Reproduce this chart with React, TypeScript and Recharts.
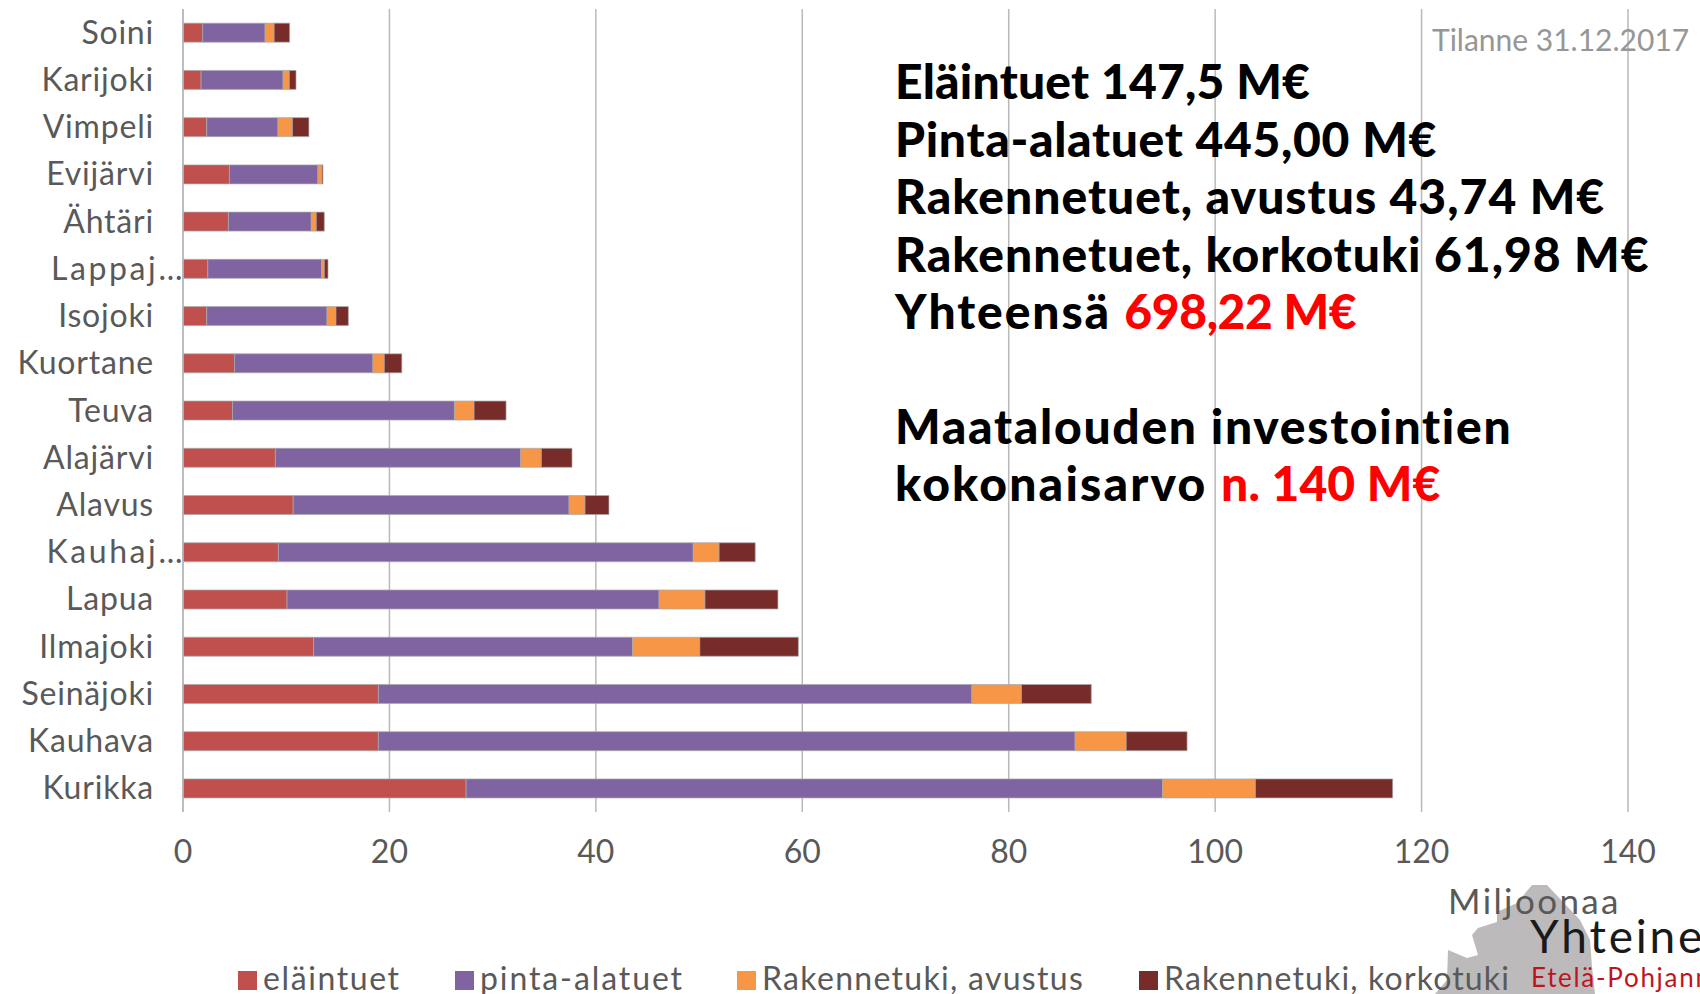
import { Bar, BarChart, CartesianGrid, Legend, XAxis, YAxis } from 'recharts';

const municipalities = ['Soini', 'Karijoki', 'Vimpeli', 'Evijärvi', 'Ähtäri', 'Lappaj…', 'Isojoki', 'Kuortane', 'Teuva', 'Alajärvi', 'Alavus', 'Kauhaj…', 'Lapua', 'Ilmajoki', 'Seinäjoki', 'Kauhava', 'Kurikka'];
const elaintuet = [1.9, 1.75, 2.3, 4.5, 4.4, 2.4, 2.3, 5.0, 4.8, 8.95, 10.68, 9.24, 10.08, 12.65, 18.93, 18.93, 27.43];
const pintaAlatuet = [6.05, 7.95, 6.9, 8.57, 8.03, 11.03, 11.65, 13.4, 21.5, 23.77, 26.72, 40.2, 36.04, 30.9, 57.5, 67.5, 67.47];
const avustus = [0.88, 0.6, 1.4, 0.39, 0.48, 0.26, 0.87, 1.1, 1.9, 2.0, 1.55, 2.5, 4.45, 6.52, 4.8, 4.95, 9.0];
const korkotuki = [1.5, 0.65, 1.6, 0.1, 0.78, 0.36, 1.2, 1.7, 3.1, 2.97, 2.32, 3.5, 7.07, 9.55, 6.77, 5.9, 13.3];
const xTicks = [0, 20, 40, 60, 80, 100, 120, 140];

const chartData = municipalities.map((name, i) => ({
  name,
  elaintuet: elaintuet[i],
  pintaAlatuet: pintaAlatuet[i],
  avustus: avustus[i],
  korkotuki: korkotuki[i],
}));

const FONT = 'Lato, sans-serif';
const GREY = '#595959';
const GRID = '#b9b9b9';
const BAR_EDGE = 'rgba(170,170,170,0.7)';
const legendLeft = [238, 455, 737, 1139];
const legendSpacing = [1.6, 1.9, 1.3, 1.15];

function CategoryTick({ y, payload }: any) {
  const truncated = String(payload.value).endsWith('…');
  return (
    <text x={truncated ? 185 : 154} y={y} dy={11} textAnchor="end" fontFamily={FONT} fontSize={32} letterSpacing={truncated ? 2.6 : 0.8} fill={GREY}>
      {payload.value}
    </text>
  );
}

function LegendRow({ payload }: any) {
  return (
    <div style={{ position: 'relative', width: 1700, height: 994 }}>
      {(payload ?? []).map((item: any, i: number) => (
        <div key={item.value} style={{ position: 'absolute', left: legendLeft[i], top: 963, height: 30, whiteSpace: 'nowrap', fontFamily: FONT, fontSize: 32, letterSpacing: legendSpacing[i], color: GREY, lineHeight: '30px' }}>
          <span style={{ display: 'inline-block', width: 19, height: 19, marginRight: 6, background: item.color }} />
          {item.value}
        </div>
      ))}
    </div>
  );
}

const infoLine = { position: 'absolute', left: 895, whiteSpace: 'nowrap', fontFamily: FONT, fontWeight: 900, fontSize: 48, lineHeight: '58px', color: '#000' } as const;
const red = { color: '#f00' };

export default function App() {
  return (
    <div style={{ position: 'absolute', left: 0, top: 0, width: 1700, height: 994, overflow: 'hidden', background: '#fff' }}>
      {/* logo map sits behind the chart */}
      <svg width={1700} height={994} style={{ position: 'absolute', left: 0, top: 0 }}>
        <polygon fill="#bcbabb" points="1532,885 1547,885 1563,902 1580,920 1590,940 1592,967 1595,994 1435,994 1447,980 1448,950 1467,958 1478,955 1472,935 1478,928 1497,922 1497,912 1517,903" />
      </svg>
      <div style={{ position: 'absolute', left: 0, top: 0 }}>
        <BarChart width={1700} height={994} data={chartData} layout="vertical" barCategoryGap="30%" margin={{ top: 9, right: 72, bottom: 102, left: 0 }}>
          <CartesianGrid horizontal={false} stroke={GRID} strokeWidth={1.5} />
          <XAxis
            type="number"
            domain={[0, 140]}
            ticks={xTicks}
            height={80}
            interval={0}
            axisLine={false}
            tickLine={false}
            tick={{ fill: GREY, fontSize: 32, fontFamily: FONT }}
            tickMargin={22}
          />
          <YAxis type="category" dataKey="name" width={183} interval={0} axisLine={{ stroke: GRID, strokeWidth: 1.5 }} tickLine={false} tick={<CategoryTick />} />
          <Bar dataKey="elaintuet" name="eläintuet" stackId="a" fill="#c0504d" stroke={BAR_EDGE} isAnimationActive={false} />
          <Bar dataKey="pintaAlatuet" name="pinta-alatuet" stackId="a" fill="#8064a2" stroke={BAR_EDGE} isAnimationActive={false} />
          <Bar dataKey="avustus" name="Rakennetuki, avustus" stackId="a" fill="#f79646" stroke={BAR_EDGE} isAnimationActive={false} />
          <Bar dataKey="korkotuki" name="Rakennetuki, korkotuki" stackId="a" fill="#772c2a" stroke={BAR_EDGE} isAnimationActive={false} />
          <Legend layout="horizontal" verticalAlign="middle" align="center" itemSorter={null} wrapperStyle={{ left: 0, top: 0, width: 1700, height: 994 }} content={<LegendRow />} />
        </BarChart>
      </div>

      <div style={{ position: 'absolute', left: 1432, top: 20, whiteSpace: 'nowrap', fontFamily: FONT, fontSize: 30, lineHeight: '38px', color: '#969696' }}>Tilanne 31.12.2017</div>
      <div style={{ ...infoLine, top: 52, letterSpacing: 0.2 }}>Eläintuet 147,5 M€</div>
      <div style={{ ...infoLine, top: 110, letterSpacing: 0.66 }}>Pinta-alatuet 445,00 M€</div>
      <div style={{ ...infoLine, top: 167, letterSpacing: 1 }}>Rakennetuet, avustus 43,74 M€</div>
      <div style={{ ...infoLine, top: 225, letterSpacing: 1 }}>Rakennetuet, korkotuki 61,98 M€</div>
      <div style={{ ...infoLine, top: 282, letterSpacing: 1.9 }}>Yhteensä <span style={{ ...red, letterSpacing: -0.4 }}>698,22 M€</span></div>
      <div style={{ ...infoLine, top: 397, letterSpacing: 1.7 }}>Maatalouden investointien</div>
      <div style={{ ...infoLine, top: 454, letterSpacing: 2.2 }}>kokonaisarvo <span style={{ ...red, letterSpacing: 0.1 }}>n. 140 M€</span></div>

      <div style={{ position: 'absolute', left: 1448, top: 880, whiteSpace: 'nowrap', fontFamily: FONT, fontSize: 35, letterSpacing: 2.4, lineHeight: '40px', color: GREY }}>Miljoonaa</div>
      <div style={{ position: 'absolute', left: 1530, top: 908, whiteSpace: 'nowrap', fontFamily: FONT, fontSize: 46, lineHeight: '56px', color: '#1a1a1a', letterSpacing: 2.8 }}>Yhteinen</div>
      <div style={{ position: 'absolute', left: 1531, top: 962, whiteSpace: 'nowrap', fontFamily: FONT, fontSize: 26, lineHeight: '30px', color: '#c0141c', letterSpacing: 1.7 }}>Etelä-Pohjanmaa</div>
    </div>
  );
}
